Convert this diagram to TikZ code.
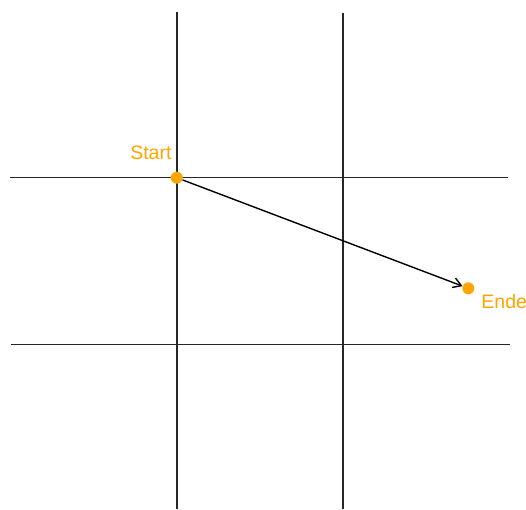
\documentclass[tikz,border=0pt]{standalone}
\usepackage{fontspec}
\setmainfont{Liberation Sans}
\usetikzlibrary{arrows.meta}
\definecolor{markorange}{HTML}{FFA500}

\begin{document}
\begin{tikzpicture}[x=1pt, y=-1pt,
        gridline/.style = {line width=1.6pt, draw=black!85},
        point/.style = {circle, fill=markorange, inner sep=0pt, minimum size=12pt},
        pointlabel/.style = {text=markorange, inner sep=0pt, font=\fontsize{19.5}{23}\selectfont},
    ]
        \useasboundingbox (0,0) rectangle (526,509);

        % grid
        \draw[gridline] (176.7,12) -- (176.7,509);
        \draw[gridline] (343,13) -- (343,509);
        \draw[gridline] (10,177.6) -- (508,177.6);
        \draw[gridline] (11,344.6) -- (510,344.6);

        \node [point] (start) at (176.7,177.7) {};
        \node [point] (ende) at (468.3,288.3) {};
        \node [pointlabel, anchor=base east] (startlabel) at (171.7,159.3) {Start};
        \node [pointlabel, anchor=base west] (endelabel) at (481.2,308.3) {Ende};

        \draw [line width=1.4pt, -{Straight Barb[length=8pt,width=10pt]}] (start) -- (ende);
    \end{tikzpicture}
\end{document}
